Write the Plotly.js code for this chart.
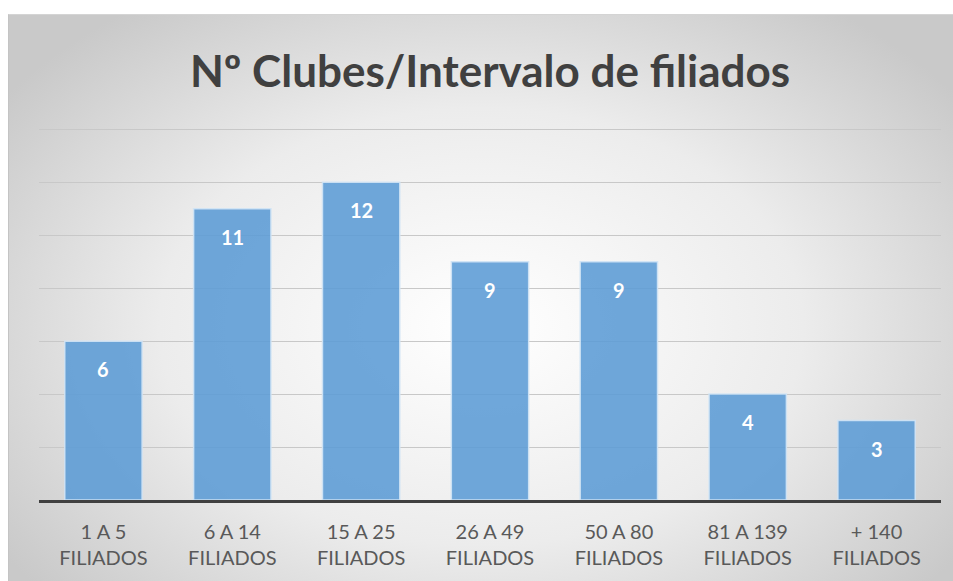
<!DOCTYPE html>
<html>
<head>
<meta charset="utf-8">
<script src="https://cdn.plot.ly/plotly-3.0.1.min.js"></script>
<style>
  body { margin: 0; background: #fff; }
  #wrap {
    position: absolute; left: 8px; top: 14px; width: 945px; height: 567px;
    border-top: 1px solid #d4d4d4; border-left: 1px solid #c4c4c4;
    background: radial-gradient(ellipse 62% 70% at 50% 55%, #ffffff 0%, #ececec 55%, #c9c9c9 100%);
  }
</style>
</head>
<body>
<div id="wrap"><div id="plot"></div></div>
<script>
// intervalos de filiados por clube
var categorias = ["1 A 5<br>FILIADOS", "6 A 14<br>FILIADOS", "15 A 25<br>FILIADOS", "26 A 49<br>FILIADOS",
                  "50 A 80<br>FILIADOS", "81 A 139<br>FILIADOS", "+ 140<br>FILIADOS"];
var clubes = [6, 11, 12, 9, 9, 4, 3];

var trace = {
    type: 'bar',
    x: categorias,
    y: clubes,
    marker: {
        color: 'rgba(91,155,213,0.88)',
        line: {color: 'rgba(210,228,245,0.9)', width: 1.5}
    },
    hoverinfo: 'none'
};

// rótulos dentro das barras, perto do topo
var rotulos = categorias.map(function (c, i) {
    return {
        x: c, y: clubes[i], yshift: -28,
        text: String(clubes[i]), showarrow: false,
        font: {family: 'Lato, sans-serif', size: 20, color: '#ffffff', weight: 'bold'}
    };
});

var layout = {
    width: 945,
    height: 567,
    paper_bgcolor: 'rgba(0,0,0,0)',
    plot_bgcolor: 'rgba(0,0,0,0)',
    margin: {l: 30, r: 13, t: 109, b: 82},
    bargap: 0.4,
    showlegend: false,
    annotations: rotulos,
    title: {
        text: 'Nº Clubes/Intervalo de filiados',
        x: 0.509, xanchor: 'center',
        y: 0.9, yanchor: 'middle',
        font: {family: 'Lato, sans-serif', size: 44, color: '#404040', weight: 'bold'}
    },
    xaxis: {
        showline: true, linecolor: '#404040', linewidth: 3,
        ticks: '', showgrid: false, ticklabelstandoff: 12,
        tickfont: {family: 'Lato, sans-serif', size: 20, color: '#595959'}
    },
    yaxis: {
        range: [0, 14.2], tickvals: [2, 4, 6, 8, 10, 12, 14],
        showticklabels: false, zeroline: false,
        gridcolor: '#c8c8c8', gridwidth: 1
    }
};

Plotly.newPlot('plot', [trace], layout, {displayModeBar: false, staticPlot: true});
</script>
</body>
</html>
